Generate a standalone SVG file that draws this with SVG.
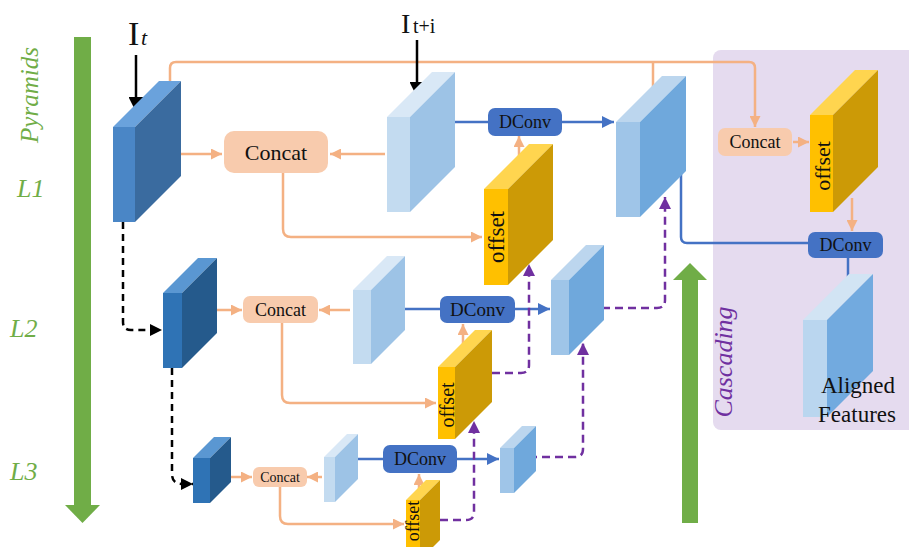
<svg xmlns="http://www.w3.org/2000/svg" width="909" height="547" viewBox="0 0 909 547" font-family="'Liberation Serif', 'DejaVu Serif', serif">
<style>
text{font-family:'Liberation Serif','DejaVu Serif',serif;fill:#111}
.lvl{font-style:italic;fill:#70ad47;font-size:26px}
.or{fill:none;stroke:#f4b183;stroke-width:2.5}
.bl{fill:none;stroke:#4472c4;stroke-width:2.5}
.pu{fill:none;stroke:#7030a0;stroke-width:2.5;stroke-dasharray:8 5}
.bk{fill:none;stroke:#000;stroke-width:2.5}
.bkd{fill:none;stroke:#000;stroke-width:2.5;stroke-dasharray:7 5}
.cc{fill:#f8cbad}
.dc{fill:#4472c4}
.dark .f{fill:#4a86c6}.dark .s{fill:#3a6b9f}.dark .t{fill:#6aa2dc}
.dark2 .f{fill:#2f73b5}.dark2 .s{fill:#255a8c}.dark2 .t{fill:#5a97d2}
.light .f{fill:#c3dbf0}.light .s{fill:#9dc3e6}.light .t{fill:#d9e8f6}
.mid .f{fill:#9fc5e8}.mid .s{fill:#6fa8dc}.mid .t{fill:#bcd6ee}
.off .f{fill:#ffc000}.off .s{fill:#cc9a06}.off .t{fill:#ffd54f}
.lbl{text-anchor:middle}
</style>
<defs>
<marker id="ao" viewBox="0 0 10 10" refX="10" refY="5" markerUnits="userSpaceOnUse" markerWidth="12" markerHeight="11" orient="auto"><path d="M0,0L10,5L0,10z" fill="#f4b183"/></marker>
<marker id="ab" viewBox="0 0 10 10" refX="10" refY="5" markerUnits="userSpaceOnUse" markerWidth="13" markerHeight="12" orient="auto"><path d="M0,0L10,5L0,10z" fill="#4472c4"/></marker>
<marker id="ap" viewBox="0 0 10 10" refX="10" refY="5" markerUnits="userSpaceOnUse" markerWidth="13" markerHeight="12" orient="auto"><path d="M0,0L10,5L0,10z" fill="#7030a0"/></marker>
<marker id="ak" viewBox="0 0 10 10" refX="10" refY="5" markerUnits="userSpaceOnUse" markerWidth="15" markerHeight="15" orient="auto"><path d="M0,0L10,5L0,10z" fill="#000"/></marker>
<marker id="aks" viewBox="0 0 10 10" refX="10" refY="5" markerUnits="userSpaceOnUse" markerWidth="12" markerHeight="12" orient="auto"><path d="M0,0L10,5L0,10z" fill="#000"/></marker>
</defs>

<rect id="cascade-bg" x="713" y="50" width="205" height="380" rx="8" fill="#e5dbef"/>

<g id="pyramids-arrow">
<rect x="74" y="37" width="17" height="470" fill="#70ad47"/>
<polygon points="65,505 100,505 82.5,523" fill="#70ad47"/>
<text class="lbl" transform="translate(38,95) rotate(-90)" style="font-style:italic;fill:#70ad47;font-size:25px">Pyramids</text>
</g>
<g id="levels">
<text class="lvl" x="17" y="197">L1</text>
<text class="lvl" x="10" y="337">L2</text>
<text class="lvl" x="10" y="480">L3</text>
</g>
<g id="cascading-arrow">
<rect x="682" y="278" width="16" height="245" fill="#70ad47"/>
<polygon points="673,280 707,280 690,263" fill="#70ad47"/>
<text class="lbl" transform="translate(732,362) rotate(-90)" style="font-style:italic;fill:#7030a0;font-size:26px">Cascading</text>
</g>

<g id="connectors">
<path class="or" d="M170 81V68Q170 62 176 62H749Q755 62 755 68V127" marker-end="url(#ao)"/>
<path class="or" d="M653 62V93"/>
<path class="or" d="M160 154H222" marker-end="url(#ao)"/>
<path class="or" d="M385 154H330" marker-end="url(#ao)"/>
<path class="or" d="M283 173V229Q283 237 291 237H482" marker-end="url(#ao)"/>
<path class="or" d="M519 166V136" marker-end="url(#ao)"/>
<path class="or" d="M205 310H242" marker-end="url(#ao)"/>
<path class="or" d="M350 310H319" marker-end="url(#ao)"/>
<path class="or" d="M282 323V395Q282 403 290 403H436" marker-end="url(#ao)"/>
<path class="or" d="M463 348V324" marker-end="url(#ao)"/>
<path class="or" d="M221 477H252" marker-end="url(#ao)"/>
<path class="or" d="M322 477H307" marker-end="url(#ao)"/>
<path class="or" d="M280 487V516Q280 524 288 524H404" marker-end="url(#ao)"/>
<path class="or" d="M419 494V474" marker-end="url(#ao)"/>
<path class="or" d="M793 142H809" marker-end="url(#ao)"/>
<path class="or" d="M852 198V231" marker-end="url(#ao)"/>

<path class="bl" d="M443 122H488M562 122H614" marker-end="url(#ab)"/>
<path class="bl" d="M398 309H440M515 309H550" marker-end="url(#ab)"/>
<path class="bl" d="M352 459H383M457 459H499" marker-end="url(#ab)"/>
<path class="bl" d="M681 173V237Q681 243 687 243H808"/>
<path class="bl" d="M848 258V294" marker-end="url(#ab)"/>

<path class="pu" d="M602 308H657Q665 308 665 300V197" marker-end="url(#ap)"/>
<path class="pu" d="M492 373H521Q529 373 529 365V264" marker-end="url(#ap)"/>
<path class="pu" d="M529 457H575Q583 457 583 449V343" marker-end="url(#ap)"/>
<path class="pu" d="M440 520H466Q474 520 474 512V421" marker-end="url(#ap)"/>

<path class="bkd" d="M123 222V322Q123 330 131 330H162" marker-end="url(#aks)"/>
<path class="bkd" d="M172 368V474Q172 484 182 484H193" marker-end="url(#aks)"/>
<path class="bk" d="M136 55V112" marker-end="url(#ak)"/>
<path class="bk" d="M417 40V97" marker-end="url(#ak)"/>
</g>

<g id="It" class="dark">
<rect class="f" x="113" y="127" width="22" height="95"/>
<polygon class="t" points="113,127 135,127 181,81 159,81"/>
<polygon class="s" points="135,127 181,81 181,176 135,222"/>
</g>
<g id="It-label"><text x="128" y="45" style="font-size:34px">I</text><text x="141" y="45" style="font-size:22px;font-style:italic">t</text></g>

<g id="Iti" class="light">
<rect class="f" x="387" y="117" width="23" height="95"/>
<polygon class="t" points="387,117 410,117 455,72 432,72"/>
<polygon class="s" points="410,117 455,72 455,167 410,212"/>
</g>
<g id="Iti-label"><text x="401" y="33" style="font-size:28px">I</text><text x="413" y="33" style="font-size:20px">t+i</text></g>

<g id="concat1"><rect class="cc" x="224" y="131" width="104" height="42" rx="10"/><text class="lbl" x="276" y="160" style="font-size:22px">Concat</text></g>
<g id="dconv1"><rect class="dc" x="488" y="108" width="74" height="28" rx="7"/><text class="lbl" x="525" y="128" style="font-size:18px">DConv</text></g>

<g id="offset1" class="off">
<rect class="f" x="484" y="189" width="24" height="96"/>
<polygon class="t" points="484,189 508,189 553,144 529,144"/>
<polygon class="s" points="508,189 553,144 553,240 508,285"/>
<text class="lbl" transform="translate(496,237) rotate(-90)" y="8" style="font-size:23px">offset</text>
</g>

<g id="aligned1" class="mid">
<rect class="f" x="616" y="122" width="24" height="95"/>
<polygon class="t" points="616,122 640,122 686,76 662,76"/>
<polygon class="s" points="640,122 686,76 686,171 640,217"/>
</g>

<g id="L2-dark" class="dark2">
<rect class="f" x="163" y="293" width="19" height="75"/>
<polygon class="t" points="163,293 182,293 217,258 198,258"/>
<polygon class="s" points="182,293 217,258 217,333 182,368"/>
</g>
<g id="concat2"><rect class="cc" x="243" y="296" width="75" height="27" rx="7"/><text class="lbl" x="280.5" y="316" style="font-size:18px">Concat</text></g>
<g id="L2-light" class="light">
<rect class="f" x="353" y="290" width="18" height="74"/>
<polygon class="t" points="353,290 371,290 405,256 387,256"/>
<polygon class="s" points="371,290 405,256 405,330 371,364"/>
</g>
<g id="dconv2"><rect class="dc" x="440" y="296" width="75" height="27" rx="7"/><text class="lbl" x="477.5" y="316" style="font-size:19px">DConv</text></g>
<g id="offset2" class="off">
<rect class="f" x="438" y="367" width="17" height="72"/>
<polygon class="t" points="438,367 455,367 492,330 475,330"/>
<polygon class="s" points="455,367 492,330 492,402 455,439"/>
<text class="lbl" transform="translate(446.5,405) rotate(-90)" y="7" style="font-size:20px">offset</text>
</g>
<g id="L2-aligned" class="mid">
<rect class="f" x="551" y="280" width="18" height="75"/>
<polygon class="t" points="551,280 569,280 604,245 586,245"/>
<polygon class="s" points="569,280 604,245 604,320 569,355"/>
</g>

<g id="L3-dark" class="dark2">
<rect class="f" x="193" y="458" width="17" height="45"/>
<polygon class="t" points="193,458 210,458 231,437 214,437"/>
<polygon class="s" points="210,458 231,437 231,482 210,503"/>
</g>
<g id="concat3"><rect class="cc" x="253" y="467" width="54" height="20" rx="6"/><text class="lbl" x="280" y="482" style="font-size:14px">Concat</text></g>
<g id="L3-light" class="light">
<rect class="f" x="324" y="457" width="11" height="45"/>
<polygon class="t" points="324,457 335,457 358,434 347,434"/>
<polygon class="s" points="335,457 358,434 358,479 335,502"/>
</g>
<g id="dconv3"><rect class="dc" x="383" y="445" width="74" height="28" rx="7"/><text class="lbl" x="420" y="465" style="font-size:18px">DConv</text></g>
<g id="offset3" class="off">
<rect class="f" x="406" y="500" width="14" height="60"/>
<polygon class="t" points="406,500 420,500 440,480 426,480"/>
<polygon class="s" points="420,500 440,480 440,540 420,560"/>
<text class="lbl" transform="translate(413,521) rotate(-90)" y="6" style="font-size:18px">offset</text>
</g>
<g id="L3-aligned" class="mid">
<rect class="f" x="500" y="448" width="14" height="45"/>
<polygon class="t" points="500,448 514,448 536,426 522,426"/>
<polygon class="s" points="514,448 536,426 536,471 514,493"/>
</g>

<g id="concat-c"><rect class="cc" x="718" y="128" width="74" height="28" rx="7"/><text class="lbl" x="755" y="148" style="font-size:18px">Concat</text></g>
<g id="offset-c" class="off">
<rect class="f" x="810" y="115" width="23" height="97"/>
<polygon class="t" points="810,115 833,115 878,70 855,70"/>
<polygon class="s" points="833,115 878,70 878,167 833,212"/>
<text class="lbl" transform="translate(821.5,166) rotate(-90)" y="8" style="font-size:22px">offset</text>
</g>
<g id="dconv-c"><rect class="dc" x="808" y="232" width="75" height="26" rx="7"/><text class="lbl" x="845.5" y="251" style="font-size:18px">DConv</text></g>
<g id="aligned-features">
<rect x="803" y="320" width="24" height="97" fill="#bad6ef"/>
<polygon points="803,320 827,320 873,274 849,274" fill="#d2e4f4"/>
<polygon points="827,320 873,274 873,371 827,417" fill="#72aadf"/>
<text class="lbl" x="858" y="393" style="font-size:23px">Aligned</text>
<text class="lbl" x="857" y="422" style="font-size:23px">Features</text>
</g>
</svg>
